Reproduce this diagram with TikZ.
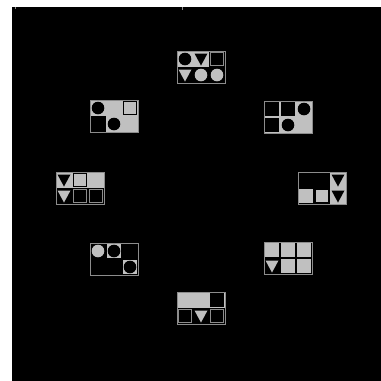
\documentclass[tikz,border=0pt]{standalone}
\usepackage{xcolor}
\usepackage{tikz}
\definecolor{cellgray}{HTML}{C0C0C0}
\definecolor{framegray}{HTML}{8C8C8C}
% one cell is 16 units, a panel is 3 x 2 cells
\newcommand{\putbg}[3]{\fill[#3] ({16*#1-16},{16*#2-16}) rectangle ++(16,16);}
\newcommand{\putsq}[4]{\filldraw[fill=#3,draw=#4,line width=0.8] ({16*#1-14.25},{16*#2-14.25}) rectangle ++(12.5,12.5);}
\newcommand{\putcirc}[3]{\fill[#3] ({16*#1-8},{16*#2-8}) circle[radius=6.3];}
\newcommand{\puttri}[3]{\fill[#3] ({16*#1-14.5},{16*#2-13.5}) -- ++(13,0) -- ++(-6.5,12) -- cycle;}
\newcommand{\panel}[3]{\begin{scope}[shift={(#1,#2)}]
#3
\draw[framegray,line width=1] (0,0) rectangle (48,32);
\end{scope}}

\begin{document}
\begin{tikzpicture}[x=1pt,y=-1pt]
\useasboundingbox (0,0) rectangle (381,381);
\fill[white] (0,0) rectangle (381,381);
\fill[black] (12,7) rectangle (381,381);
\draw[framegray] (15,7)--(15,9);
\draw[framegray] (182,7)--(182,10);
% top
\panel{177}{51}{
\putbg{1}{1}{cellgray}\putbg{2}{1}{cellgray}
\putcirc{1}{1}{black}\puttri{2}{1}{black}\putsq{3}{1}{black}{framegray}
\puttri{1}{2}{cellgray}\putcirc{2}{2}{cellgray}\putcirc{3}{2}{cellgray}}
% upper left
\panel{90}{100}{
\fill[cellgray] (0,0) rectangle (48,32);
\putbg{1}{2}{black}
\putcirc{1}{1}{black}\putsq{3}{1}{cellgray}{black}\putcirc{2}{2}{black}}
% upper right
\panel{264}{101}{
\fill[cellgray] (0,0) rectangle (48,32);
\putsq{1}{1}{black}{black}\putsq{2}{1}{black}{black}\putcirc{3}{1}{black}
\putsq{1}{2}{black}{black}\putcirc{2}{2}{black}}
% left
\panel{56}{172}{
\putbg{1}{1}{cellgray}\putbg{2}{1}{cellgray}\putbg{3}{1}{cellgray}
\puttri{1}{1}{black}\putsq{2}{1}{cellgray}{black}
\puttri{1}{2}{cellgray}\putsq{2}{2}{black}{framegray}\putsq{3}{2}{black}{framegray}}
% right
\panel{298}{172}{
\putbg{3}{1}{cellgray}\putbg{3}{2}{cellgray}
\puttri{3}{1}{black}\puttri{3}{2}{black}
\putsq{1}{2}{cellgray}{cellgray}\putsq{2}{2}{cellgray}{black}}
% lower left
\panel{90}{243}{
\putcirc{1}{1}{cellgray}
\putsq{2}{1}{cellgray}{cellgray}\putcirc{2}{1}{black}
\putsq{3}{2}{cellgray}{cellgray}\putcirc{3}{2}{black}}
% lower right
\panel{264}{242}{
\putsq{1}{1}{cellgray}{cellgray}\putsq{2}{1}{cellgray}{cellgray}\putsq{3}{1}{cellgray}{cellgray}
\puttri{1}{2}{cellgray}\putsq{2}{2}{cellgray}{cellgray}\putsq{3}{2}{cellgray}{cellgray}}
% bottom
\panel{177}{292}{
\putbg{1}{1}{cellgray}\putbg{2}{1}{cellgray}\putbg{3}{1}{cellgray}
\putsq{3}{1}{black}{black}
\putsq{1}{2}{black}{framegray}\puttri{2}{2}{cellgray}\putsq{3}{2}{black}{framegray}}
\end{tikzpicture}
\end{document}
